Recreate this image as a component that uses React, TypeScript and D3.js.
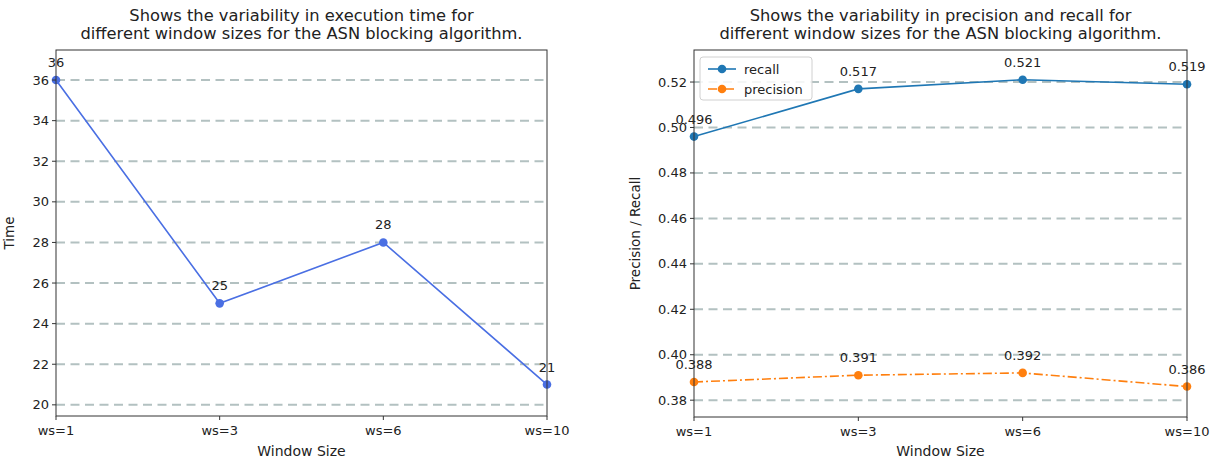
import React from "react";
import * as d3 from "d3";

const categories = ["ws=1", "ws=3", "ws=6", "ws=10"];
const timeValues = [36, 25, 28, 21];
const recallValues = [0.496, 0.517, 0.521, 0.519];
const precisionValues = [0.388, 0.391, 0.392, 0.386];
const timeTicks = [20, 22, 24, 26, 28, 30, 32, 34, 36];
const prTicks = [0.38, 0.4, 0.42, 0.44, 0.46, 0.48, 0.5, 0.52];

const W = 1216;
const H = 463;
const FONT = "DejaVu Sans, sans-serif";
const GRID = "#b3c1c1";

type Series = { name: string; values: number[]; color: string; dash?: string; fmt: (v: number) => string };

function Panel(props: {
  x0: number; x1: number; y0: number; y1: number;
  domain: [number, number]; ticks: number[]; tickFmt: (v: number) => string;
  title: string[]; ylabel: string; ylabelOffset: number; series: Series[]; legend?: boolean;
}) {
  const { x0, x1, y0, y1, domain, ticks, tickFmt, title, ylabel, ylabelOffset, series, legend } = props;
  const x = d3.scalePoint<string>().domain(categories).range([x0, x1]);
  const y = d3.scaleLinear().domain(domain).range([y1, y0]);
  const cx = (x0 + x1) / 2;
  return (
    <g fontFamily={FONT}>
      {title.map((t, i) => (
        <text key={i} x={cx} y={20.5 + i * 18} textAnchor="middle" fontSize={16.3} fill="#222">{t}</text>
      ))}
      {ticks.map((t) => (
        <line key={"g" + t} x1={x0} x2={x1} y1={y(t)} y2={y(t)} stroke={GRID} strokeWidth={2} strokeDasharray="9,5.5" />
      ))}
      {series.map((s) => {
        const line = d3.line<number>().x((_, i) => x(categories[i])!).y((v) => y(v));
        return (
          <g key={s.name}>
            <path d={line(s.values) || ""} fill="none" stroke={s.color} strokeWidth={1.6} strokeDasharray={s.dash} />
            {s.values.map((v, i) => (
              <circle key={i} cx={x(categories[i])} cy={y(v)} r={4.3} fill={s.color} />
            ))}
            {s.values.map((v, i) => (
              <text key={"t" + i} x={x(categories[i])} y={y(v) - 13} textAnchor="middle" fontSize={13} fill="#222">{s.fmt(v)}</text>
            ))}
          </g>
        );
      })}
      <rect x={x0} y={y0} width={x1 - x0} height={y1 - y0} fill="none" stroke="#333" strokeWidth={1} />
      {ticks.map((t) => (
        <g key={"yt" + t}>
          <line x1={x0 - 4} x2={x0} y1={y(t)} y2={y(t)} stroke="#333" />
          <text x={x0 - 7} y={y(t)} dy="0.35em" textAnchor="end" fontSize={13} fill="#222">{tickFmt(t)}</text>
        </g>
      ))}
      {categories.map((c) => (
        <g key={"xt" + c}>
          <line x1={x(c)} x2={x(c)} y1={y1} y2={y1 + 4} stroke="#333" />
          <text x={x(c)} y={y1 + 19} textAnchor="middle" fontSize={13} fill="#222">{c}</text>
        </g>
      ))}
      <text x={cx} y={456} textAnchor="middle" fontSize={14} fill="#222">Window Size</text>
      <text transform={`translate(${x0 - ylabelOffset},${(y0 + y1) / 2}) rotate(-90)`} textAnchor="middle" fontSize={13.5} fill="#222">{ylabel}</text>
      {legend && (
        <g>
          <rect x={x0 + 6} y={y0 + 7} width={112} height={43} rx={3} fill="white" fillOpacity={0.85} stroke="#d0d0d0" />
          {series.map((s, i) => (
            <g key={"l" + s.name}>
              <line x1={x0 + 14} x2={x0 + 42} y1={y0 + 19 + i * 20} y2={y0 + 19 + i * 20} stroke={s.color} strokeWidth={1.6} strokeDasharray={s.dash} />
              <circle cx={x0 + 28} cy={y0 + 19 + i * 20} r={4.3} fill={s.color} />
              <text x={x0 + 50} y={y0 + 19 + i * 20} dy="0.35em" fontSize={13} fill="#222">{s.name}</text>
            </g>
          ))}
        </g>
      )}
    </g>
  );
}

export default function App() {
  return (
    <svg width={W} height={H} style={{ display: "block", position: "absolute", left: 0, top: 0, background: "white" }}>
      <Panel
        x0={56} x1={547} y0={50} y1={416}
        domain={[19.45, 37.48]}
        ticks={timeTicks}
        tickFmt={(v) => String(v)}
        title={["Shows the variability in execution time for", "different window sizes for the ASN blocking algorithm."]}
        ylabel="Time"
        ylabelOffset={42}
        series={[{ name: "time", values: timeValues, color: "#4a6fe3", fmt: (v) => String(v) }]}
      />
      <Panel
        x0={694} x1={1187} y0={50} y1={417}
        domain={[0.3726, 0.5341]}
        ticks={prTicks}
        tickFmt={(v) => v.toFixed(2)}
        title={["Shows the variability in precision and recall for", "different window sizes for the ASN blocking algorithm."]}
        ylabel="Precision / Recall"
        ylabelOffset={54}
        legend
        series={[
          { name: "recall", values: recallValues, color: "#1f77b4", fmt: (v) => v.toFixed(3) },
          { name: "precision", values: precisionValues, color: "#ff7f0e", dash: "9,3,2,3", fmt: (v) => v.toFixed(3) },
        ]}
      />
    </svg>
  );
}
